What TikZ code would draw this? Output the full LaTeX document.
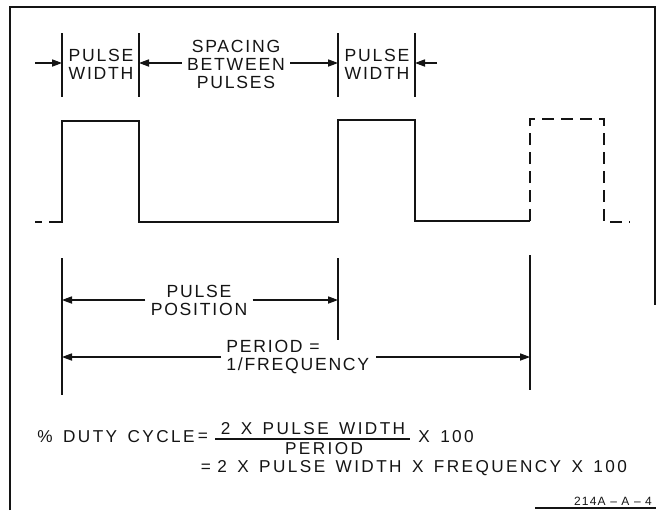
\documentclass[tikz,border=0pt]{standalone}
\usepackage{fontspec}
\setmainfont{Liberation Sans}[LetterSpace=10]
\newfontfamily\dutyfam{Liberation Sans}[LetterSpace=14]
\usepackage{tikz}
\usetikzlibrary{arrows.meta, positioning}
\definecolor{ink}{HTML}{141414}
\newcommand{\dutyfont}{\dutyfam\fontsize{8.6}{10}\selectfont\spaceskip=5.2pt plus 1pt\relax}

\begin{document}
\begin{tikzpicture}[x=0.5pt, y=-0.5pt,
    wave/.style={ink, line width=1.1pt},
    guide/.style={ink, line width=0.55pt},
    dimarrow/.style={ink, line width=0.55pt, -{Triangle[length=5pt, width=3.6pt]}},
    lbl/.style={text=ink, inner xsep=2.5pt, inner ysep=0pt, align=center, font=\fontsize{8.8}{9}\selectfont},
    eqn/.style={text=ink, inner sep=0pt, font=\dutyfont}]
  \useasboundingbox (0,0) rectangle (656,510);
  % frame, cut off at the lower right
  \draw[ink, line width=0.7pt] (10,510) -- (10,7) -- (655,7) -- (655,305);
  \draw[ink, line width=0.7pt] (535,508) -- (656,508);

  % pulse width / spacing marks at the top
  \foreach \n/\x in {a/62, b/139, c/338, d/415} {
    \coordinate (\n-t) at (\x,33);
    \coordinate (\n-b) at (\x,97);
    \coordinate (\n-m) at (\x,63);
    \draw[guide] (\n-t) -- (\n-b);
  }
  \node[lbl] (pw1) at (101,64) {PULSE\\WIDTH};
  \node[lbl] (pw2) at (377,64) {PULSE\\WIDTH};
  \node[lbl] (spc) at (236,64) {SPACING\\BETWEEN\\PULSES};
  \coordinate (inL) at (35,63);
  \coordinate (inR) at (437,63);
  \draw[dimarrow] (inL) -- (a-m);
  \draw[dimarrow] (spc.west |- b-m) -- (b-m);
  \draw[dimarrow] (spc.east |- c-m) -- (c-m);
  \draw[dimarrow] (inR) -- (d-m);

  % pulse train
  \draw[wave] (35,222) -- (42,222);
  \draw[wave] (49,222) -- (62,222) -- (62,121) -- (139,121) -- (139,222)
    -- (338,222) -- (338,120) -- (415,120) -- (415,221) -- (530,221);
  \draw[wave, dash pattern=on 6pt off 3.5pt] (530,221) -- (530,119) -- (604,119)
    -- (604,222) -- (630,222);

  % position and period
  \coordinate (p1) at (62,258);  \coordinate (p1e) at (62,395);
  \coordinate (p2) at (338,258); \coordinate (p2e) at (338,340);
  \coordinate (p3) at (530,255); \coordinate (p3e) at (530,390);
  \draw[guide] (p1) -- (p1e);
  \draw[guide] (p2) -- (p2e);
  \draw[guide] (p3) -- (p3e);
  \node[lbl] (pos) at (199,300) {PULSE\\POSITION};
  \draw[dimarrow] (pos.west) -- (p1 |- pos.west);
  \draw[dimarrow] (pos.east) -- (p2 |- pos.east);
  \node[lbl, align=left, anchor=west] (per) at (221,357) {PERIOD =\\1/FREQUENCY};
  \coordinate (perR) at (376,357);
  \draw[dimarrow] (per.west) -- (p1 |- per.west);
  \draw[dimarrow] (perR) -- (p3 |- perR);

  % duty cycle
  \node[eqn, anchor=east] (dc) at (195,437) {\% DUTY CYCLE};
  \node[eqn] (eq1) at (203,437) {=};
  \coordinate (barL) at (215,439);
  \coordinate (barR) at (410,439);
  \draw[ink, line width=0.6pt] (barL) -- (barR);
  \node[eqn] (num) at (313,429) {2 X PULSE WIDTH};
  \node[eqn] (den) at (324,449) {PERIOD};
  \node[eqn, anchor=west] (x100) at (418,437) {X 100};
  \node[eqn] (eq2) at (206,468) {=};
  \node[eqn, anchor=west] (dc2) at (217,468) {2 X PULSE WIDTH X FREQUENCY X 100};
  \node[text=ink, inner sep=0pt, font=\fontsize{6}{7}\selectfont] (code) at (613,501) {214A – A – 4};
\end{tikzpicture}
\end{document}
